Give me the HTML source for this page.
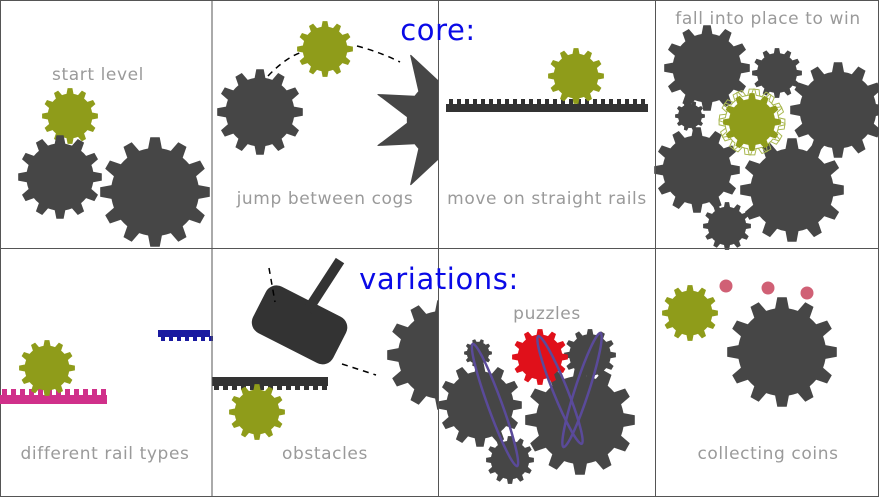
<!DOCTYPE html>
<html><head><meta charset="utf-8"><style>
html,body{margin:0;padding:0;background:#fff;}
svg{display:block;}
text{font-family:"DejaVu Sans","Liberation Sans",sans-serif;}
.l{fill:#9a9a9a;font-size:17px;letter-spacing:0.6px;text-anchor:middle;}
.h{fill:#0a0ae6;font-size:29px;letter-spacing:0.6px;text-anchor:middle;}
</style></head><body>
<svg id="s" width="879" height="497" viewBox="0 0 879 497" xmlns="http://www.w3.org/2000/svg">
<rect x="0.5" y="0.5" width="878" height="496" fill="#fff" stroke="#555"/>
<g id="g"></g>
<svg id="p2" x="212" y="0" width="226.5" height="248" viewBox="212 0 226.5 248" overflow="hidden"></svg>
<svg id="p6" x="212" y="248" width="226.5" height="249" viewBox="212 248 226.5 249" overflow="hidden"></svg>
<g id="g2"></g>
<line x1="212" y1="0" x2="212" y2="497" stroke="#555"/>
<line x1="438.5" y1="0" x2="438.5" y2="497" stroke="#555"/>
<line x1="655.5" y1="0" x2="655.5" y2="497" stroke="#555"/>
<line x1="0" y1="248.5" x2="879" y2="248.5" stroke="#555"/>
<path d="M268 76 Q285 58 302 52" stroke="#000" stroke-width="1.5" fill="none" stroke-dasharray="6 5"/>
<path d="M357 46 Q380 52 400 62" stroke="#000" stroke-width="1.5" fill="none" stroke-dasharray="6 5"/>
<path d="M269 268 L275 302" stroke="#000" stroke-width="1.5" fill="none" stroke-dasharray="6 5"/>
<path d="M342 364 L376 375" stroke="#000" stroke-width="1.5" fill="none" stroke-dasharray="6 5"/>
<text class="l" x="98" y="80">start level</text>
<text class="l" x="325" y="204">jump between cogs</text>
<text class="l" x="547" y="204">move on straight rails</text>
<text class="l" x="768" y="24">fall into place to win</text>
<text class="l" x="105" y="459">different rail types</text>
<text class="l" x="325" y="459">obstacles</text>
<text class="l" x="547" y="319">puzzles</text>
<text class="l" x="768" y="459">collecting coins</text>
<text class="h" x="438" y="40">core:</text>
<text class="h" x="439" y="289">variations:</text>
</svg>
<script>
var NS="http://www.w3.org/2000/svg",G=document.getElementById('g'),P2=document.getElementById('p2'),P6=document.getElementById('p6'),G2=document.getElementById('g2');
function el(t,a,p){var e=document.createElementNS(NS,t);for(var k in a)e.setAttribute(k,a[k]);(p||G).appendChild(e);return e;}
function gp(cx,cy,R,n,ri,tw,rot,tp){ri=ri||0.8;tw=tw||0.6;rot=rot||0;tp=(tp===undefined)?0.55:tp;var r=R*ri,d="",st=2*Math.PI/n;
 for(var i=0;i<n;i++){var a=rot+i*st,h=st*tw/2,h2=h*tp;
  var pts=[[r,a-st/2+0.001],[r,a-h],[R,a-h2],[R,a+h2],[r,a+h]];
  pts.forEach(function(p,j){var x=cx+p[0]*Math.cos(p[1]),y=cy+p[0]*Math.sin(p[1]);d+=(i==0&&j==0?"M":"L")+x.toFixed(1)+" "+y.toFixed(1);});}
 return d+"Z";}
function gear(cx,cy,R,n,c,o){o=o||{};return el('path',{d:gp(cx,cy,R,n,o.ri,o.tw,o.rot,o.tp),fill:c},o.par);}
var D="#464646",O="#8f9c1a";
// panel1
gear(70,116,28,12,O);gear(60,177,42,12,D);gear(155,192,55,12,D);
// panel2
gear(260,112,43,12,D);gear(325,49,28,12,O);
gear(448,120,75,9,D,{ri:0.55,tw:0.8,tp:0.02,rot:0,par:P2});
// panel3
el('rect',{x:446,y:104,width:202,height:8,fill:"#333"});
for(var x=449;x<648;x+=8)el('rect',{x:x,y:99,width:4,height:6,fill:"#333"});
gear(576,76,28,12,O);
// panel4
gear(707,68,43,12,D);gear(777,73,25,12,D);gear(838,110,48,12,D);gear(690,116,15,10,D);
gear(697,170,43,12,D);gear(792,190,52,12,D);gear(727,226,24,12,D);
el('path',{d:gp(752,122,33,12,0.82,0.6),fill:"none",stroke:"#a9b850","stroke-width":1});
el('path',{d:gp(752,122,33,12,0.82,0.6,0.13),fill:"none",stroke:"#a9b850","stroke-width":1});
gear(752,122,29,12,O);
// b1
el('rect',{x:158,y:330,width:52,height:7,fill:"#1a1aa0"});
for(x=161;x<210;x+=8)el('rect',{x:x,y:336,width:4,height:5,fill:"#1a1aa0"});
el('rect',{x:0,y:395,width:107,height:9,fill:"#d0308a"});
for(x=2;x<107;x+=9)el('rect',{x:x,y:389,width:5,height:7,fill:"#d0308a"});
gear(47,368,28,12,O);
// b2
el('rect',{x:212,y:377,width:116,height:9,fill:"#333"});
for(x=214;x<328;x+=9)el('rect',{x:x,y:385,width:5,height:5,fill:"#333"});
gear(257,412,28,12,O);
var hm=el('g',{transform:"translate(300,324) rotate(27)"});
el('rect',{x:-45,y:-25,width:90,height:52,rx:12,fill:"#333"},hm);
var hd=el('g',{transform:"translate(300,324) rotate(33)"});
el('rect',{x:-6,y:-75,width:10,height:60,fill:"#333"},hd);
gear(442,355,55,12,D,{par:P6});
// b3
gear(478,353,14,10,D,{par:G2});gear(590,355,26,12,D,{par:G2});gear(480,405,42,12,D,{par:G2});gear(580,420,55,12,D,{par:G2});gear(510,460,24,12,D,{par:G2});
gear(540,357,28,12,"#e0101a",{par:G2});
var pu={fill:"none",stroke:"#5a4a9a","stroke-width":2.5};
el('ellipse',Object.assign({cx:495,cy:405,rx:7,ry:65,transform:"rotate(-20 495 405)"},pu),G2);
el('ellipse',Object.assign({cx:560,cy:390,rx:7,ry:58,transform:"rotate(-22 560 390)"},pu),G2);
el('ellipse',Object.assign({cx:582,cy:390,rx:7,ry:60,transform:"rotate(18 582 390)"},pu),G2);
// b4
[[726,286],[768,288],[807,293]].forEach(function(p){el('circle',{cx:p[0],cy:p[1],r:6.5,fill:"#d06075"});});
gear(690,313,28,12,O);gear(782,352,55,12,D);
</script>
</body></html>
